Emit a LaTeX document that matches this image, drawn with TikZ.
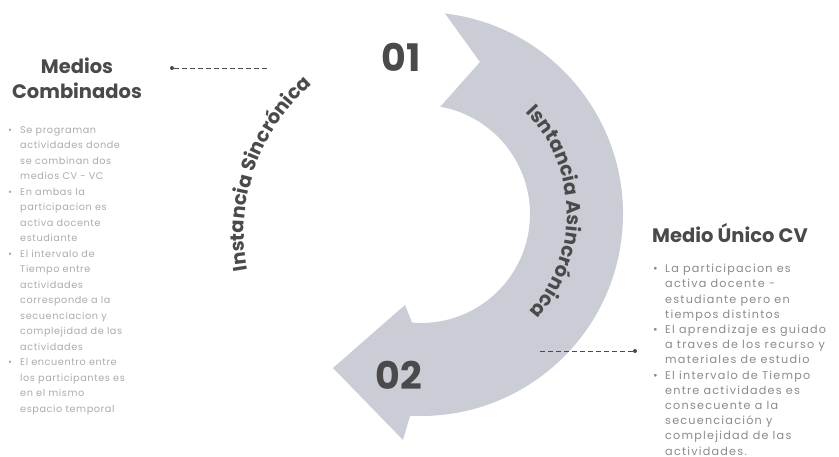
\documentclass[tikz,border=0pt]{standalone}
\usepackage{fontspec}
\setmainfont{Poppins}
\newfontfamily\bodyfont[LetterSpace=6]{Poppins}
\newfontfamily\widebodyfont[LetterSpace=11]{Poppins}
\usetikzlibrary{decorations.text}
\definecolor{bandgray}{HTML}{CACDD6}
\definecolor{inkgray}{HTML}{4A4A4A}
\definecolor{palegray}{HTML}{ABABAB}
\definecolor{midgray}{HTML}{8A8A8A}
\newcommand{\itm}{\makebox[12pt][l]{\textbullet}}
\newcommand{\cnt}{\hspace*{12pt}}

\begin{document}
\begin{tikzpicture}[x=1pt,y=1pt,
  heading/.style={font=\fontsize{19.5}{25}\selectfont\bfseries,text=inkgray,align=center,inner sep=0pt},
  bodylist/.style={align=left,inner sep=0pt,anchor=north west},
  numlabel/.style={font=\fontsize{38}{38}\selectfont\bfseries,text=inkgray,inner sep=0pt},
  dashline/.style={inkgray,line width=0.7pt,dash pattern=on 5pt off 3pt},
  dotend/.style={circle,fill=inkgray,inner sep=0pt,minimum size=4pt}]
\useasboundingbox (0,0) rectangle (839,457);
\coordinate (c) at (421,243);
\coordinate (c2) at (445,222);
% curved band with arrow head
\fill[bandgray] ([shift={(83.2:202)}]c) arc[start angle=83.2,end angle=-93.1,radius=202]
  -- (403,17) -- (333,89) -- (405,152)
  -- ([shift={(-94.7:109)}]c) arc[start angle=-94.7,end angle=79.8,radius=109]
  -- (480,395) -- cycle;
\path[decorate,decoration={text along path,text align=center,
  text={|\fontsize{19.5}{19.5}\selectfont\bfseries\color{inkgray}|Isntancia Asincrónica}}]
  ([shift={(100:146)}]c) arc[start angle=100,end angle=-98,radius=146];
\path[decorate,decoration={text along path,text align=center,
  text={|\fontsize{19.5}{19.5}\selectfont\bfseries\color{inkgray}|Instancia Sincrónica}}]
  ([shift={(220:201)}]c2) arc[start angle=220,end angle=101.6,radius=201];
\node[numlabel] (one) at (401,400) {01};
\node[numlabel] (two) at (399,82) {02};
% left block
\node[heading] (combi) at (77,379) {Medios\\Combinados};
\node[bodylist,font=\bodyfont\fontsize{9.7}{15.5}\selectfont,text=palegray] (combilist) at (8,331) {%
\itm Se programan\\ \cnt actividades donde\\ \cnt se combinan dos\\ \cnt medios CV - VC\\
\itm En ambas la\\ \cnt participacion es\\ \cnt activa docente\\ \cnt estudiante\\
\itm El intervalo de\\ \cnt Tiempo entre\\ \cnt actividades\\ \cnt corresponde a la\\
\cnt secuenciacion y\\ \cnt complejidad de las\\ \cnt actividades\\
\itm El encuentro entre\\ \cnt los participantes es\\ \cnt en el mismo\\ \cnt espacio temporal};
% right block
\node[heading,anchor=west] (unico) at (652,224) {Medio Único CV};
\node[bodylist,font=\widebodyfont\fontsize{11.2}{15.2}\selectfont,text=midgray] (unicolist) at (653,193) {%
\itm La participacion  es\\ \cnt activa docente -\\ \cnt estudiante pero en\\ \cnt tiempos distintos\\
\itm El aprendizaje es guiado\\ \cnt a traves de los recurso y\\ \cnt materiales de estudio\\
\itm El intervalo de Tiempo\\ \cnt entre actividades es\\ \cnt consecuente a la\\
\cnt secuenciación y\\ \cnt complejidad de las\\ \cnt actividades.};
% connectors
\node[dotend] (topdot) at (172,389) {};
\coordinate (topend) at (269,389);
\draw[dashline] (topdot) -- (topend);
\node[dotend] (lowdot) at (635,106) {};
\coordinate (lowend) at (540,106);
\draw[dashline] (lowend) -- (lowdot);
\end{tikzpicture}
\end{document}
